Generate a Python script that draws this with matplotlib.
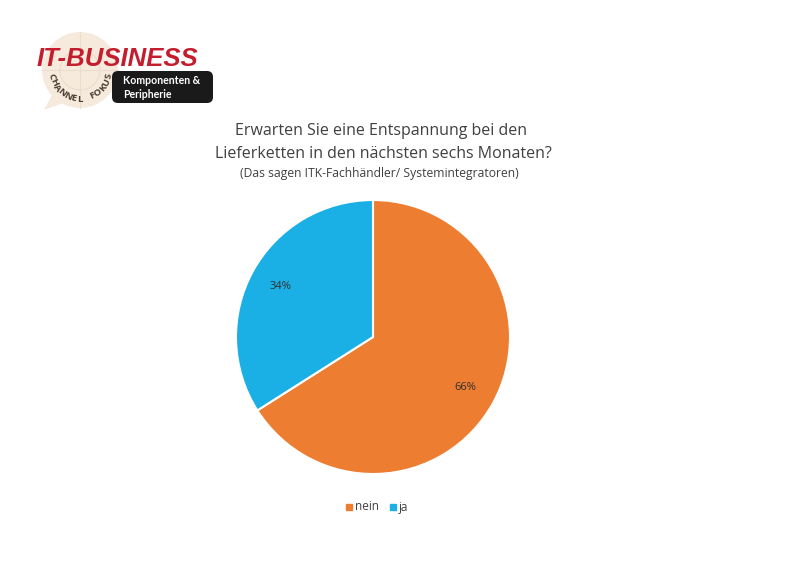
import matplotlib
matplotlib.use("Agg")
import matplotlib.pyplot as plt
from matplotlib.patches import FancyBboxPatch, Circle, Rectangle, Polygon
import numpy as np

labels = ["nein", "ja"]
values = [66, 34]
colors = ["#ED7D31", "#1AB0E6"]

title_line1 = "Erwarten Sie eine Entspannung bei den"
title_line2 = "Lieferketten in den nächsten sechs Monaten?"
subtitle = "(Das sagen ITK-Fachhändler/ Systemintegratoren)"

plt.rcParams['font.family'] = ['Open Sans', 'DejaVu Sans']
W, H = 800, 565
fig = plt.figure(figsize=(8, 5.65), dpi=100)
fig.patch.set_facecolor("white")

# Pie
cx, cy, r = 373, 337, 137
ax = fig.add_axes([(cx - r) / W, 1 - (cy + r) / H, 2 * r / W, 2 * r / H])
wedges, texts, autotexts = ax.pie(values, colors=colors, startangle=90, counterclock=False,
                                  autopct=lambda p: f"{p:.0f}%", pctdistance=0.77,
                                  wedgeprops=dict(edgecolor="white", linewidth=1.5),
                                  textprops=dict(fontsize=8, color="#303030"))
ax.set_xlim(-1, 1)
ax.set_ylim(-1, 1)
ax.set_aspect("equal")

# Title
fig.text(381 / W, 1 - 131 / H, title_line1, ha="center", va="center", fontsize=11.5, color="#404040")
fig.text(383 / W, 1 - 154 / H, title_line2, ha="center", va="center", fontsize=11.5, color="#404040")
fig.text(379 / W, 1 - 173 / H, subtitle, ha="center", va="center", fontsize=8.7, color="#404040")

# Legend
for (lab, col, xm) in [(labels[0], colors[0], 349), (labels[1], colors[1], 393)]:
    fig.patches.append(Rectangle(((xm - 3) / W, 1 - (507 + 3) / H), 6 / W, 6 / H,
                                 transform=fig.transFigure, color=col))
    fig.text((xm + 6) / W, 1 - 507 / H, lab, ha="left", va="center", fontsize=8.5, color="#404040")

# Logo
lax = fig.add_axes([0, 0, 1, 1], facecolor="none")
lax.set_xlim(0, W)
lax.set_ylim(H, 0)
lax.axis("off")
lax.add_patch(Polygon([[52, 95], [44, 110], [66, 102]], closed=True,
                      facecolor="#F5EADC", edgecolor="none", zorder=1))
lax.add_patch(Circle((80, 70), 38, facecolor="#F5EADC", edgecolor="none", zorder=1))
lax.add_patch(Circle((80, 70), 20, facecolor="none", edgecolor="#EBDCCB", lw=0.8, zorder=1))
lax.plot([42, 118], [70, 70], color="#EBDCCB", lw=0.8, zorder=1)
lax.plot([80, 80], [32, 108], color="#EBDCCB", lw=0.8, zorder=1)
lax.add_patch(FancyBboxPatch((112, 71), 101, 32, boxstyle="round,pad=0,rounding_size=6",
                             facecolor="#1A1A1A", edgecolor="none", zorder=2))
lax.text(123, 80, "Komponenten &", color="white", fontsize=7.6, fontweight="bold",
         ha="left", va="center", family="Lato", zorder=3)
lax.text(123, 94, "Peripherie", color="white", fontsize=7.6, fontweight="bold",
         ha="left", va="center", family="Lato", zorder=3)
lax.text(37, 59, "IT-BUSINESS", color="#C41E2E", fontsize=18.5, fontweight="bold",
         fontstyle="italic", family="Liberation Sans", ha="left", va="center", zorder=4)
# curved "CHANNEL FOKUS"
s = "CHANNEL FOKUS"
angs = np.linspace(192, 348, len(s))
for ch, a in zip(s, angs):
    ar = np.deg2rad(a)
    x = 80 + 29 * np.cos(ar)
    y = 70 - 29 * np.sin(ar)
    lax.text(x, y, ch, fontsize=6.8, fontweight="bold", color="#4A3C30", rotation=a + 90,
             ha="center", va="center", zorder=3)

fig.savefig("out.png", dpi=100)
